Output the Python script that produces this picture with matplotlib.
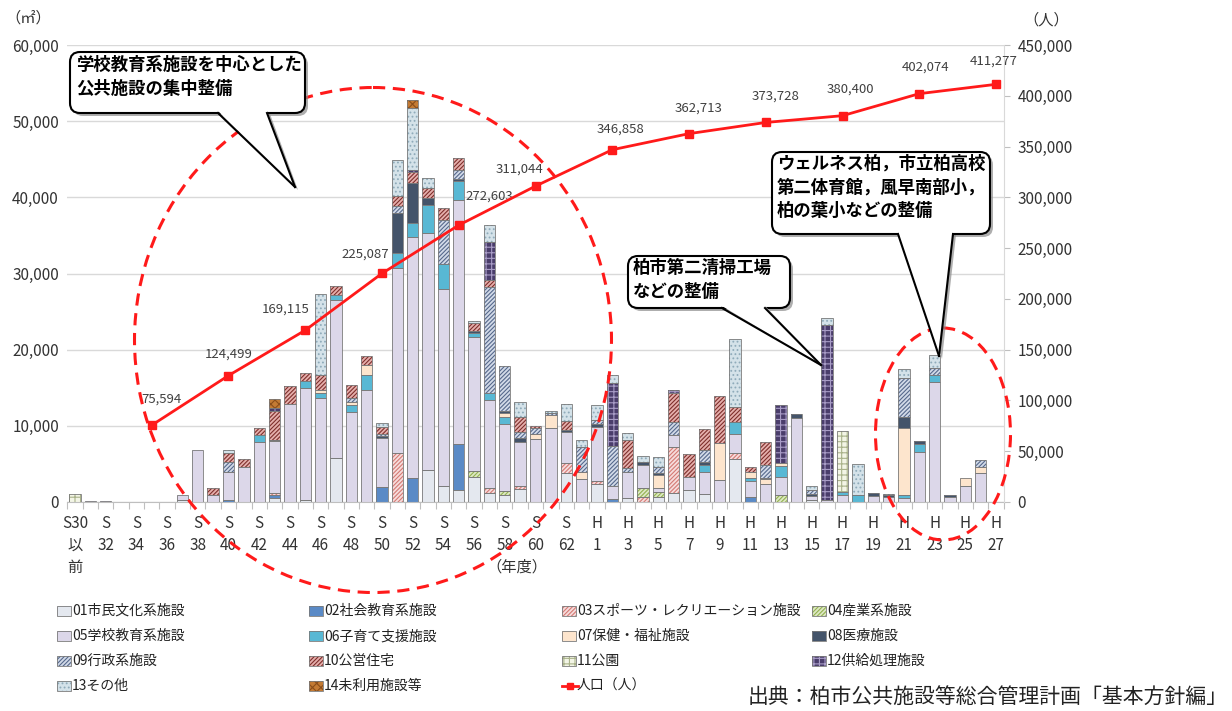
import matplotlib
matplotlib.use("Agg")
import matplotlib.pyplot as plt
import matplotlib.transforms as mtransforms
from matplotlib.patches import FancyBboxPatch, Ellipse, Polygon, Rectangle
from matplotlib.lines import Line2D
import numpy as np

plt.rcParams["font.family"] = ["Noto Sans CJK JP", "DejaVu Sans"]
plt.rcParams["hatch.linewidth"] = 0.8

# ── data (m², by fiscal year S30以前 … H27) ──────────────────────────────────
xlabels = ["S30\n以\n前", "S\n32", "S\n34", "S\n36", "S\n38", "S\n40", "S\n42", "S\n44",
           "S\n46", "S\n48", "S\n50", "S\n52", "S\n54", "S\n56", "S\n58", "S\n60",
           "S\n62", "H\n1", "H\n3", "H\n5", "H\n7", "H\n9", "H\n11", "H\n13",
           "H\n15", "H\n17", "H\n19", "H\n21", "H\n23", "H\n25", "H\n27"]

c01 = [0, 0, 0, 0, 0, 0, 0, 200, 0, 0,
       0, 0, 0, 500, 0, 300, 0, 5800, 0, 0,
       0, 0, 0, 4200, 2100, 1600, 3300, 1200, 900, 1700,
       0, 0, 3800, 0, 2300, 0, 500, 0, 600, 1200,
       1600, 1000, 0, 5700, 0, 0, 0, 0, 300, 0,
       0, 0, 0, 0, 0, 0, 0, 0, 0, 0,
       0]
c02 = [0, 0, 0, 0, 0, 0, 0, 0, 0, 0,
       300, 0, 0, 400, 0, 0, 0, 0, 0, 0,
       2000, 0, 3200, 0, 0, 6000, 0, 0, 0, 0,
       0, 0, 0, 0, 0, 400, 0, 0, 0, 0,
       0, 0, 0, 0, 600, 0, 0, 0, 0, 0,
       0, 0, 0, 0, 0, 0, 0, 0, 0, 0,
       0]
c03 = [0, 0, 0, 0, 0, 0, 0, 0, 0, 0,
       0, 0, 0, 300, 0, 0, 0, 0, 0, 0,
       0, 6400, 0, 0, 0, 0, 0, 600, 0, 400,
       0, 0, 1300, 0, 500, 0, 0, 600, 0, 6000,
       0, 0, 0, 700, 0, 0, 0, 0, 0, 0,
       0, 0, 0, 0, 0, 0, 0, 0, 0, 0,
       0]
c04 = [0, 0, 0, 0, 0, 0, 0, 0, 0, 0,
       0, 0, 0, 0, 0, 0, 0, 0, 0, 0,
       0, 0, 0, 0, 0, 0, 800, 0, 500, 0,
       0, 0, 0, 0, 0, 0, 0, 1300, 700, 0,
       0, 0, 0, 0, 0, 0, 900, 0, 0, 0,
       0, 0, 0, 0, 0, 0, 0, 0, 0, 0,
       0]
c05 = [0, 100, 100, 0, 0, 0, 0, 700, 6800, 900,
       3700, 4600, 7900, 6800, 12900, 14700, 13600, 20700, 11800, 14700,
       6400, 24300, 31600, 31100, 25800, 32000, 17600, 11600, 8900, 5800,
       8300, 9700, 4100, 3000, 7100, 1700, 3400, 2900, 500, 1600,
       1700, 2900, 2900, 2500, 2200, 2300, 2400, 11000, 500, 300,
       900, 0, 800, 600, 500, 6600, 15700, 600, 2100, 3800,
       0]
c06 = [0, 0, 0, 0, 0, 0, 0, 0, 0, 0,
       0, 0, 900, 0, 0, 900, 700, 700, 900, 2000,
       0, 2000, 1800, 3700, 3300, 2500, 500, 900, 800, 0,
       0, 0, 0, 0, 0, 0, 0, 0, 0, 0,
       0, 1000, 0, 1600, 300, 0, 1400, 0, 0, 0,
       400, 900, 0, 0, 400, 1000, 1000, 0, 0, 0,
       0]
c07 = [0, 0, 0, 0, 0, 0, 0, 0, 0, 0,
       0, 0, 0, 0, 0, 0, 400, 0, 400, 1300,
       0, 0, 0, 0, 0, 0, 0, 0, 600, 0,
       600, 1700, 0, 900, 0, 0, 0, 0, 1800, 0,
       0, 0, 4800, 0, 800, 700, 400, 0, 0, 0,
       0, 0, 0, 0, 8800, 0, 0, 0, 1000, 800,
       0]
c08 = [0, 0, 0, 0, 0, 0, 0, 0, 0, 0,
       0, 0, 0, 200, 0, 0, 0, 0, 0, 0,
       200, 5300, 5300, 900, 0, 300, 300, 0, 300, 500,
       0, 0, 300, 0, 300, 0, 0, 500, 200, 0,
       0, 300, 0, 0, 0, 200, 0, 500, 200, 0,
       0, 0, 400, 300, 1400, 400, 0, 300, 0, 0,
       0]
c09 = [0, 0, 0, 0, 0, 0, 0, 0, 0, 0,
       1200, 0, 0, 0, 0, 0, 0, 0, 500, 0,
       300, 900, 0, 0, 5800, 1200, 0, 13900, 5800, 800,
       800, 300, 0, 3300, 600, 5200, 500, 0, 800, 1700,
       0, 1600, 0, 0, 0, 1700, 0, 0, 600, 0,
       0, 0, 0, 200, 5200, 0, 900, 0, 0, 900,
       0]
c10 = [0, 0, 0, 0, 0, 0, 0, 0, 0, 1000,
       1200, 1000, 900, 3700, 2300, 1000, 2000, 1200, 1700, 1200,
       1000, 1300, 1400, 1300, 1600, 1500, 1000, 900, 0, 2000,
       300, 0, 1200, 0, 0, 0, 3700, 0, 0, 3800,
       3000, 2800, 6200, 2000, 700, 3000, 0, 0, 0, 0,
       0, 0, 0, 0, 0, 0, 0, 0, 0, 0,
       0]
c11 = [1100, 0, 0, 0, 0, 0, 0, 0, 0, 0,
       0, 0, 0, 0, 0, 0, 0, 0, 0, 0,
       0, 0, 0, 0, 0, 0, 0, 0, 0, 0,
       0, 0, 0, 0, 0, 0, 0, 0, 0, 0,
       0, 0, 0, 0, 0, 0, 0, 0, 0, 0,
       8000, 0, 0, 0, 0, 0, 0, 0, 0, 0,
       0]
c12 = [0, 0, 0, 0, 0, 0, 0, 0, 0, 0,
       0, 0, 0, 400, 0, 0, 0, 0, 0, 0,
       0, 0, 300, 0, 0, 0, 0, 5000, 0, 0,
       0, 0, 0, 0, 0, 8300, 0, 0, 0, 400,
       0, 0, 0, 0, 0, 0, 7700, 0, 0, 23000,
       0, 0, 0, 0, 0, 0, 0, 0, 0, 0,
       0]
c13 = [0, 0, 0, 0, 0, 0, 0, 0, 0, 0,
       400, 0, 0, 0, 0, 0, 10600, 0, 0, 0,
       500, 4700, 8100, 1300, 0, 0, 300, 2300, 0, 1900,
       0, 200, 2200, 900, 1900, 1100, 900, 700, 1300, 0,
       0, 0, 0, 8900, 0, 0, 0, 0, 500, 900,
       0, 4100, 0, 0, 1200, 0, 1700, 0, 0, 0,
       0]
c14 = [0, 0, 0, 0, 0, 0, 0, 0, 0, 0,
       0, 0, 0, 1200, 0, 0, 0, 0, 0, 0,
       0, 0, 1100, 0, 0, 0, 0, 0, 0, 0,
       0, 0, 0, 0, 0, 0, 0, 0, 0, 0,
       0, 0, 0, 0, 0, 0, 0, 0, 0, 0,
       0, 0, 0, 0, 0, 0, 0, 0, 0, 0,
       0]

series_names = ["01市民文化系施設", "02社会教育系施設", "03スポーツ・レクリエーション施設", "04産業系施設",
                "05学校教育系施設", "06子育て支援施設", "07保健・福祉施設", "08医療施設",
                "09行政系施設", "10公営住宅", "11公園", "12供給処理施設",
                "13その他", "14未利用施設等"]
series_vals = [c01, c02, c03, c04, c05, c06, c07, c08, c09, c10, c11, c12, c13, c14]

# population (人), at category index
pop_idx = [5, 10, 15, 20, 25, 30, 35, 40, 45, 50, 55, 60]
pop_vals = [75594, 124499, 169115, 225087, 272603, 311044,
            346858, 362713, 373728, 380400, 402074, 411277]
pop_label_offset = [(10, 26), (0, 21), (-20, 21), (-17, 19), (31, 29), (-16, 17),
                    (8, 21), (10, 26), (10, 26), (8, 27), (6, 27), (-2, 23)]

# ── style: face, hatch, hatch colour ─────────────────────────────────────────
STYLE = [
    ("#E4E8EF", None, None),
    ("#5A8AC6", None, None),
    ("#F6DCDC", "////////", "#D47A74"),
    ("#DDE8C4", "////////", "#93B150"),
    ("#DCD7E9", None, None),
    ("#58B8D4", None, None),
    ("#FDE5CD", None, None),
    ("#44546A", None, None),
    ("#D2DAE8", "////////", "#56698C"),
    ("#E5AFAC", "////////", "#7E2F2C"),
    ("#F3F5E6", "+++", "#A9B28A"),
    ("#4A3D6B", "+++", "#A89CC6"),
    ("#D4E2E9", "....", "#8FABBA"),
    ("#C47B34", "xxxx", "#8B4E1A"),
]
OUTLINE = "#7a7a7a"
RED = "#FF1A1A"

W, H = 1232, 711
fig = plt.figure(figsize=(W / 100, H / 100), dpi=100)
fig.patch.set_facecolor("white")
# pixel transform, origin top-left
PX = mtransforms.Affine2D().scale(0.01, -0.01).translate(0, H / 100) + fig.dpi_scale_trans

ax = fig.add_axes([67.3 / W, 1 - 502 / H, 936.4 / W, 457 / H])
x = np.arange(len(c01))
bottom = np.zeros(len(x))
bw = 0.74
for vals, (face, hatch, hcol) in zip(series_vals, STYLE):
    v = np.array(vals, dtype=float)
    m = v > 0
    ax.bar(x[m], v[m], bw, bottom=bottom[m], color=face, hatch=hatch,
           edgecolor=hcol if hatch else face, linewidth=0, zorder=2)
    ax.bar(x[m], v[m], bw, bottom=bottom[m], fill=False,
           edgecolor=OUTLINE, linewidth=0.6, zorder=3)
    bottom += v

ax.set_xlim(-0.5, len(x) - 0.5)
ax.set_ylim(0, 60000)
ax.set_yticks(np.arange(0, 60001, 10000))
ax.yaxis.set_major_formatter(plt.FuncFormatter(lambda v, _: f"{v:,.0f}"))
ax.tick_params(axis="y", length=0, pad=6, labelsize=11, labelcolor="#333333")
ax.grid(axis="y", color="#D9D9D9", linewidth=1.0, zorder=0)
ax.set_axisbelow(True)
ax.set_xticks(np.arange(0, len(x), 2))
ax.set_xticklabels(xlabels, fontsize=11, color="#333333", linespacing=1.42, va="top")
ax.set_xticks(np.arange(-0.5, len(x), 1), minor=True)
ax.tick_params(axis="x", which="major", length=0, pad=9)
ax.tick_params(axis="x", which="minor", length=5, color="#BFBFBF", width=0.8)
for s in ["top", "left", "right"]:
    ax.spines[s].set_visible(False)
ax.spines["bottom"].set_color("#BFBFBF")

ax2 = ax.twinx()
ax2.plot(pop_idx, pop_vals, color=RED, linewidth=2, marker="s", markersize=6, zorder=5)
for i, v, (dx, dy) in zip(pop_idx, pop_vals, pop_label_offset):
    ax2.annotate(f"{v:,}", (i, v), xytext=(dx, dy), textcoords="offset pixels",
                 ha="center", va="center", fontsize=9.5, color="#404040")
ax2.set_ylim(0, 450000)
ax2.set_yticks(np.arange(0, 450001, 50000))
ax2.yaxis.set_major_formatter(plt.FuncFormatter(lambda v, _: f"{v:,.0f}"))
ax2.tick_params(axis="y", length=4, color="#BFBFBF", pad=6, labelsize=11, labelcolor="#333333")
for s in ["top", "left", "bottom"]:
    ax2.spines[s].set_visible(False)
ax2.spines["right"].set_color("#D9D9D9")

# ── axis units ───────────────────────────────────────────────────────────────
fig.text(28, 18, "（㎡）", transform=PX, ha="center", va="center", fontsize=11, color="#333333")
fig.text(1046, 20, "（人）", transform=PX, ha="center", va="center", fontsize=11, color="#333333")
fig.text(517, 567, "（年度）", transform=PX, ha="center", va="center", fontsize=11, color="#333333")

# ── dashed ellipses ──────────────────────────────────────────────────────────
for (cx, cy, ew, eh) in [(373, 340, 477, 505), (943, 434, 135, 212)]:
    fig.add_artist(Ellipse((cx, cy), ew, eh, transform=PX, fill=False, edgecolor=RED,
                           linewidth=2.2, linestyle=(0, (4, 2.5))))


# ── callouts ─────────────────────────────────────────────────────────────────
def callout(x0, y0, x1, y1, base, tip, text, tx, ty):
    w, h = x1 - x0, y1 - y0
    sh = 3
    fig.add_artist(FancyBboxPatch((x0 + sh, y0 + sh), w, h, boxstyle="round,pad=0,rounding_size=10",
                                  transform=PX, facecolor="#8c8c8c", edgecolor="none", alpha=0.7))
    fig.add_artist(Polygon([(base[0] + sh, y1 + sh - 2), (base[1] + sh, y1 + sh - 2),
                            (tip[0] + sh, tip[1] + sh)], transform=PX,
                           facecolor="#8c8c8c", edgecolor="none", alpha=0.7))
    fig.add_artist(FancyBboxPatch((x0, y0), w, h, boxstyle="round,pad=0,rounding_size=10",
                                  transform=PX, facecolor="white", edgecolor="black", linewidth=1.5))
    fig.add_artist(Polygon([(base[0], y1 - 2), (base[1], y1 - 2), tip], transform=PX,
                           facecolor="white", edgecolor="none"))
    for bx in base:
        fig.add_artist(Line2D([bx, tip[0]], [y1, tip[1]], transform=PX, color="black", linewidth=1.5))
    fig.text(tx, ty, text, transform=PX, ha="left", va="top", fontsize=12.5,
             fontweight="bold", color="black", linespacing=1.4)


callout(70, 52, 305, 113, (218, 267), (295, 187), "学校教育系施設を中心とした\n公共施設の集中整備", 76, 56)
callout(628, 256, 790, 308, (722, 765), (821, 365), "柏市第二清掃工場\nなどの整備", 633, 259)
callout(772, 152, 990, 234, (898, 953), (939, 356),
        "ウェルネス柏，市立柏高校\n第二体育館，風早南部小，\n柏の葉小などの整備", 777, 155)

# ── legend (row-major, 4 columns) ────────────────────────────────────────────
col_x = [57, 309, 562, 812]
row_y = [611, 636, 661, 686]
entries = list(zip(series_names, STYLE)) + [("人口（人）", None)]
for k, (name, sty) in enumerate(entries):
    lx, ly = col_x[k % 4], row_y[k // 4]
    if sty is None:
        fig.add_artist(Line2D([lx, lx + 16], [ly, ly], transform=PX, color=RED, linewidth=2))
        fig.add_artist(Line2D([lx + 8], [ly], transform=PX, color=RED, marker="s", markersize=5))
    else:
        face, hatch, hcol = sty
        fig.add_artist(Rectangle((lx, ly - 5), 14, 10, transform=PX, facecolor=face, hatch=hatch,
                                 edgecolor=hcol if hatch else face, linewidth=0))
        fig.add_artist(Rectangle((lx, ly - 5), 14, 10, transform=PX, fill=False,
                                 edgecolor=OUTLINE, linewidth=0.6))
    fig.text(lx + 15, ly, name, transform=PX, ha="left", va="center", fontsize=10, color="#222222")

fig.text(1228, 697, "出典：柏市公共施設等総合管理計画「基本方針編」", transform=PX,
         ha="right", va="center", fontsize=15, color="#222222")

fig.savefig("out.png", dpi=100)
